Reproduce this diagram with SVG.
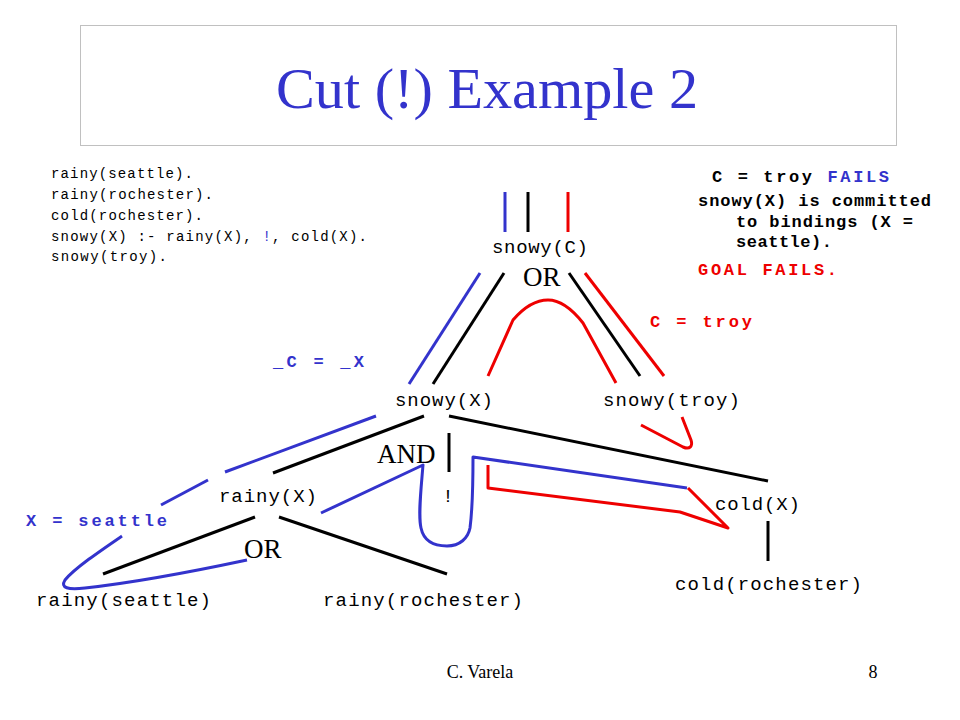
<svg xmlns="http://www.w3.org/2000/svg" width="960" height="720" viewBox="0 0 960 720">
<style>
.code{font-family:"Liberation Mono","Courier New",monospace;font-size:14px;fill:#000}
.node{font-family:"Liberation Mono","Courier New",monospace;font-size:19px;fill:#000}
.bold{font-family:"Liberation Mono","Courier New",monospace;font-size:17px;font-weight:bold}
.serif{font-family:"Liberation Serif","Times New Roman",serif;fill:#000}
.blk{stroke:#000;stroke-width:3;fill:none;stroke-linecap:butt}
.blu{stroke:#3333cc;stroke-width:3;fill:none;stroke-linejoin:round}
.red{stroke:#ee0000;stroke-width:3;fill:none;stroke-linejoin:round}
.b{fill:#3333cc}
.r{fill:#ee0000}
.k{fill:#000}
</style>
<rect width="960" height="720" fill="#fff"/>
<g id="title">
<rect x="80.5" y="25.5" width="816" height="120" fill="#fff" stroke="#c0c0c0" stroke-width="1"/>
<text x="487" y="108" text-anchor="middle" class="serif" font-size="58" style="fill:#3333cc" textLength="422" lengthAdjust="spacingAndGlyphs">Cut (!) Example 2</text>
</g>
<g id="program">
<text class="code" x="51" y="178" textLength="142">rainy(seattle).</text>
<text class="code" x="51" y="199" textLength="162">rainy(rochester).</text>
<text class="code" x="51" y="220" textLength="152">cold(rochester).</text>
<text class="code" x="51" y="240.5" textLength="316">snowy(X) :- rainy(X), <tspan class="b">!</tspan>, cold(X).</text>
<text class="code" x="51" y="261" textLength="116">snowy(troy).</text>
</g>
<g id="notes">
<text class="bold k" x="712" y="182" textLength="177">C = troy <tspan class="b">FAILS</tspan></text>
<text class="bold k" x="698" y="206" textLength="233">snowy(X) is committed</text>
<text class="bold k" x="736" y="227" textLength="177">to bindings (X =</text>
<text class="bold k" x="736" y="247" textLength="96">seattle).</text>
<text class="bold r" x="698" y="275" textLength="139">GOAL FAILS.</text>
<text class="bold r" x="650" y="327" textLength="102">C = troy</text>
<text class="bold b" x="273" y="367" textLength="91">_C = _X</text>
<text class="bold b" x="26" y="526" textLength="141">X = seattle</text>
</g>
<g id="connectors">
<line class="blu" x1="505" y1="192" x2="505" y2="232"/>
<line class="blk" x1="528" y1="192" x2="528" y2="232"/>
<line class="red" x1="568" y1="192" x2="568" y2="232"/>
<line class="blu" x1="480" y1="273" x2="409" y2="384"/>
<line class="blk" x1="504" y1="273" x2="433" y2="384"/>
<path class="red" d="M488,376 L513,320 C525,306 537,300 548,300 C560,300 572,309 583,323 L616,383"/>
<line class="blk" x1="569" y1="273" x2="640" y2="376"/>
<line class="red" x1="585" y1="273" x2="664" y2="376"/>
<path class="red" d="M641,425 L683,447 C690,450 693,446 691,440 L682,417"/>
<line class="blk" x1="424" y1="416" x2="273" y2="473"/>
<line class="blu" x1="376" y1="416" x2="225" y2="472"/>
<line class="blu" x1="208" y1="480" x2="161" y2="505"/>
<path class="blu" d="M122,536 C100,551 75,568 65,580 C60,588 68,590 85,588 C140,582 200,570 247,560"/>
<line class="blk" x1="255" y1="517" x2="103" y2="574"/>
<line class="blk" x1="279" y1="517" x2="447" y2="574"/>
<line class="blk" x1="449" y1="433" x2="449" y2="472"/>
<line class="blk" x1="449" y1="416" x2="768" y2="481"/>
<path class="blu" d="M321,513 L423,465 C421,490 418,515 421,528 C424,542 435,546 447,546 C460,546 468,538 470,528 C473,505 473,480 473,457 L687,488"/>
<path class="red" d="M488,465 L488,488 L680,512 L728,528 L688,488"/>
<line class="blk" x1="768" y1="521" x2="768" y2="561"/>
</g>
<g id="node-snowyC"><text class="node" x="492" y="253" textLength="96">snowy(C)</text></g>
<g id="or-top"><text class="serif" x="523" y="286" font-size="27">OR</text></g>
<g id="node-snowyX"><text class="node" x="395" y="406" textLength="98">snowy(X)</text></g>
<g id="node-snowytroy"><text class="node" x="603" y="406" textLength="137">snowy(troy)</text></g>
<g id="and"><text class="serif" x="377" y="463" font-size="27">AND</text></g>
<g id="node-rainyX"><text class="node" x="219" y="502" textLength="98">rainy(X)</text></g>
<g id="node-cut"><text class="node" x="448" y="502" text-anchor="middle">!</text></g>
<g id="node-coldX"><text class="node" x="715" y="510" textLength="85">cold(X)</text></g>
<g id="or-bottom"><text class="serif" x="244" y="558" font-size="27">OR</text></g>
<g id="node-rainyseattle"><text class="node" x="36" y="606" textLength="175">rainy(seattle)</text></g>
<g id="node-rainyrochester"><text class="node" x="323" y="606" textLength="200">rainy(rochester)</text></g>
<g id="node-coldrochester"><text class="node" x="675" y="590" textLength="187">cold(rochester)</text></g>
<g id="footer">
<text class="serif" x="480" y="678" font-size="18" text-anchor="middle">C. Varela</text>
<text class="serif" x="873" y="678" font-size="18" text-anchor="middle">8</text>
</g>
</svg>
